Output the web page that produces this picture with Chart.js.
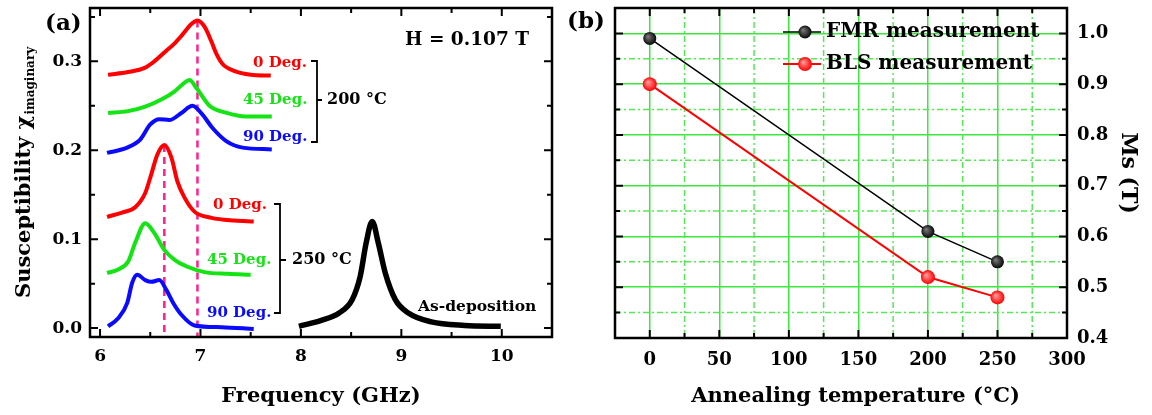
<!DOCTYPE html>
<html>
<head>
<meta charset="utf-8">
<script src="https://cdn.jsdelivr.net/npm/chart.js@4.4.1/dist/chart.umd.min.js"></script>
<style>
  body { margin: 0; background: #fff; }
  #wrap { position: relative; width: 1152px; height: 415px; }
  canvas { position: absolute; top: 0; }
  #chartA { left: 0; }
  #chartB { left: 560px; }
</style>
</head>
<body>
<div id="wrap">
  <canvas id="chartA" width="560" height="415"></canvas>
  <canvas id="chartB" width="592" height="415"></canvas>
</div>
<script>
// ---------- Panel (a): imaginary susceptibility vs frequency ----------
const freqMajor = [6, 7, 8, 9, 10];
const freqMinor = [6.5, 7.5, 8.5, 9.5];
const chiMajor = [0.0, 0.1, 0.2, 0.3];
const chiMinor = [0.05, 0.15, 0.25, 0.35];

// 200 C anneal, 0 / 45 / 90 deg
const f200deg0 = [6.08, 6.28, 6.45, 6.54, 6.64, 6.74, 6.82, 6.91, 6.97, 7.04, 7.11, 7.16, 7.22, 7.34, 7.50, 7.70];
const chi200deg0 = [0.285, 0.288, 0.293, 0.300, 0.310, 0.320, 0.330, 0.342, 0.346, 0.339, 0.322, 0.308, 0.297, 0.289, 0.285, 0.284];
const f200deg45 = [6.08, 6.28, 6.45, 6.61, 6.74, 6.83, 6.89, 6.96, 7.09, 7.26, 7.45, 7.71];
const chi200deg45 = [0.242, 0.244, 0.249, 0.257, 0.266, 0.275, 0.279, 0.270, 0.250, 0.242, 0.238, 0.238];
const f200deg90 = [6.07, 6.27, 6.40, 6.50, 6.59, 6.69, 6.81, 6.92, 7.02, 7.12, 7.26, 7.42, 7.71];
const chi200deg90 = [0.197, 0.203, 0.212, 0.229, 0.235, 0.234, 0.242, 0.250, 0.240, 0.225, 0.210, 0.203, 0.201];

// 250 C anneal, 0 / 45 / 90 deg
const f250deg0 = [6.07, 6.22, 6.35, 6.45, 6.51, 6.57, 6.64, 6.71, 6.77, 6.84, 6.94, 7.11, 7.34, 7.53];
const chi250deg0 = [0.125, 0.130, 0.136, 0.152, 0.173, 0.195, 0.206, 0.192, 0.165, 0.147, 0.131, 0.124, 0.121, 0.120];
const f250deg45 = [6.07, 6.18, 6.28, 6.35, 6.45, 6.54, 6.64, 6.74, 6.87, 7.04, 7.27, 7.50];
const chi250deg45 = [0.062, 0.066, 0.075, 0.096, 0.118, 0.107, 0.088, 0.077, 0.069, 0.063, 0.061, 0.060];
const f250deg90 = [6.08, 6.18, 6.27, 6.32, 6.37, 6.45, 6.51, 6.59, 6.66, 6.73, 6.81, 6.94, 7.21, 7.53];
const chi250deg90 = [0.002, 0.011, 0.028, 0.051, 0.060, 0.054, 0.052, 0.054, 0.043, 0.028, 0.015, 0.003, 0.001, -0.001];

// as-deposited film
const fAsDep = [7.98, 8.21, 8.38, 8.51, 8.59, 8.65, 8.71, 8.77, 8.84, 8.94, 9.07, 9.30, 9.63, 9.99];
const chiAsDep = [0.002, 0.009, 0.017, 0.032, 0.058, 0.096, 0.120, 0.096, 0.062, 0.032, 0.017, 0.007, 0.003, 0.002];

// dashed guides at the 0 deg resonance peaks
const guideFreq = [6.97, 6.64];
const guideTop = [0.346, 0.206];

// ---------- Panel (b): Ms vs annealing temperature ----------
const annealTemp = [0, 200, 250];
const msFMR = [0.99, 0.61, 0.55];
const msBLS = [0.90, 0.52, 0.48];
const tempMajor = [0, 50, 100, 150, 200, 250, 300];
const tempMinor = [25, 75, 125, 175, 225, 275];
const msMajor = [0.4, 0.5, 0.6, 0.7, 0.8, 0.9, 1.0];
const msMinor = [0.45, 0.55, 0.65, 0.75, 0.85, 0.95];

const RED = '#ff0000', GREEN = '#14e414', BLUE = '#0a0aff', PINK = '#ff1f8f', GRID = '#3ce83c';
const FONT = '"DejaVu Serif", serif';

Chart.defaults.font.family = FONT;
Chart.defaults.font.weight = 'bold';
Chart.defaults.color = '#000';

function pts(xs, ys) {
  return xs.map((x, i) => ({ x: x, y: ys[i] }));
}

function curve(xs, ys, color, width) {
  return {
    data: pts(xs, ys),
    showLine: true,
    borderColor: color,
    borderWidth: width || 4,
    pointRadius: 0,
    cubicInterpolationMode: 'monotone'
  };
}

function guide(f, top) {
  return {
    data: [{ x: f, y: top }, { x: f, y: -0.01 }],
    showLine: true,
    borderColor: PINK,
    borderWidth: 2.5,
    borderDash: [7, 5],
    pointRadius: 0
  };
}

// explicit tick lists
function setTicks(vals) {
  return (scale) => { scale.ticks = vals.map(v => ({ value: v })); };
}

// fixed axis box so the plot area lands where the original has it
function fixSize(prop, size) {
  return (scale) => {
    scale[prop] = size;
    scale.paddingLeft = scale.paddingRight = scale.paddingTop = scale.paddingBottom = 0;
  };
}

function text(ctx, s, x, y, size, color) {
  ctx.font = 'bold ' + size + 'px ' + FONT;
  ctx.fillStyle = color || '#000';
  ctx.textAlign = 'left';
  ctx.textBaseline = 'middle';
  ctx.fillText(s, x, y);
}

// inward tick marks on all four sides + frame
function frameTicks(xMajor, xMinor, yMajor, yMinor) {
  return {
    id: 'frameTicks',
    afterDraw(chart) {
      const { ctx, chartArea: a } = chart;
      const sx = chart.scales.x, sy = chart.scales.y;
      ctx.save();
      ctx.strokeStyle = '#000';
      ctx.lineWidth = 2;
      ctx.beginPath();
      const vt = (vals, len) => vals.forEach(v => {
        const p = sx.getPixelForValue(v);
        ctx.moveTo(p, a.bottom); ctx.lineTo(p, a.bottom - len);
        ctx.moveTo(p, a.top); ctx.lineTo(p, a.top + len);
      });
      const ht = (vals, len) => vals.forEach(v => {
        const p = sy.getPixelForValue(v);
        ctx.moveTo(a.left, p); ctx.lineTo(a.left + len, p);
        ctx.moveTo(a.right, p); ctx.lineTo(a.right - len, p);
      });
      vt(xMajor, 8); vt(xMinor, 5);
      ht(yMajor, 8); ht(yMinor, 5);
      ctx.stroke();
      ctx.lineWidth = 2.5;
      ctx.strokeRect(a.left, a.top, a.right - a.left, a.bottom - a.top);
      ctx.restore();
    }
  };
}

// labels, brackets and y title of panel (a)
const panelAText = {
  id: 'panelAText',
  afterDraw(chart) {
    const ctx = chart.ctx;
    ctx.save();
    text(ctx, '(a)', 45, 24, 23);
    text(ctx, 'H = 0.107 T', 405, 40, 18.5);
    text(ctx, '0 Deg.', 253, 63, 15, RED);
    text(ctx, '45 Deg.', 243, 100, 15, GREEN);
    text(ctx, '90 Deg.', 243, 137, 15, BLUE);
    text(ctx, '0 Deg.', 213, 205, 15, RED);
    text(ctx, '45 Deg.', 207, 260, 15, GREEN);
    text(ctx, '90 Deg.', 207, 313, 15, BLUE);
    text(ctx, '200 °C', 327, 100, 16);
    text(ctx, '250 °C', 292, 260, 16);
    text(ctx, 'As-deposition', 418, 307, 15.5);

    ctx.strokeStyle = '#000';
    ctx.lineWidth = 1.8;
    ctx.beginPath();
    // 200 C bracket
    ctx.moveTo(311, 61); ctx.lineTo(317, 61); ctx.lineTo(317, 142); ctx.lineTo(311, 142);
    ctx.moveTo(317, 100); ctx.lineTo(322, 100);
    // 250 C bracket
    ctx.moveTo(274, 204); ctx.lineTo(280, 204); ctx.lineTo(280, 313); ctx.lineTo(274, 313);
    ctx.moveTo(280, 260); ctx.lineTo(286, 260);
    ctx.stroke();

    // y title with subscript
    ctx.translate(25, 298);
    ctx.rotate(-Math.PI / 2);
    const main = 'Susceptibility χ';
    text(ctx, main, 0, 0, 21);
    const w = ctx.measureText(main).width;
    text(ctx, 'imaginary', w + 1, 6, 12);
    ctx.restore();
  }
};

new Chart(document.getElementById('chartA'), {
  type: 'scatter',
  data: {
    datasets: [
      curve(f200deg0, chi200deg0, RED),
      curve(f200deg45, chi200deg45, GREEN),
      curve(f200deg90, chi200deg90, BLUE),
      curve(f250deg0, chi250deg0, RED),
      curve(f250deg45, chi250deg45, GREEN),
      curve(f250deg90, chi250deg90, BLUE),
      curve(fAsDep, chiAsDep, '#000', 5.5),
      guide(guideFreq[0], guideTop[0]),
      guide(guideFreq[1], guideTop[1])
    ]
  },
  options: {
    responsive: false,
    animation: false,
    layout: { padding: { left: 0, top: 8, right: 8, bottom: 0 } },
    plugins: { legend: { display: false }, tooltip: { enabled: false } },
    scales: {
      x: {
        type: 'linear', min: 5.9, max: 10.5,
        afterBuildTicks: setTicks(freqMajor),
        afterFit: fixSize('height', 78),
        grid: { display: false, drawTicks: false },
        border: { display: false },
        ticks: { padding: 9, font: { size: 17 }, callback: v => v.toFixed(0) },
        title: { display: true, text: 'Frequency (GHz)', font: { size: 21 }, padding: { top: 0, bottom: 6 } }
      },
      y: {
        type: 'linear', min: -0.01, max: 0.36,
        afterBuildTicks: setTicks(chiMajor),
        afterFit: fixSize('width', 90),
        grid: { display: false, drawTicks: false },
        border: { display: false },
        ticks: { padding: 8, font: { size: 17 }, callback: v => v.toFixed(1) }
      }
    }
  },
  plugins: [frameTicks(freqMajor, freqMinor, chiMajor, chiMinor), panelAText]
});

// ---------- panel (b) ----------
// shaded ball marker, falls back to flat colour before the scales are ready
function ball(base, hi) {
  return (c) => {
    if (!c.parsed) return base;
    const ch = c.chart;
    const px = ch.scales.x.getPixelForValue(c.parsed.x);
    const py = ch.scales.y.getPixelForValue(c.parsed.y);
    if (!isFinite(px) || !isFinite(py)) return base;
    const g = ch.ctx.createRadialGradient(px - 2, py - 2, 0.5, px, py, 7);
    g.addColorStop(0, hi);
    g.addColorStop(1, base);
    return g;
  };
}

const minorGrid = {
  id: 'minorGrid',
  beforeDatasetsDraw(chart) {
    const { ctx, chartArea: a, scales: { x, y } } = chart;
    ctx.save();
    ctx.strokeStyle = '#55ea55';
    ctx.lineWidth = 1.5;
    ctx.setLineDash([6, 3, 2, 3]);
    ctx.beginPath();
    tempMinor.forEach(v => { const p = x.getPixelForValue(v); ctx.moveTo(p, a.top); ctx.lineTo(p, a.bottom); });
    msMinor.forEach(v => { const p = y.getPixelForValue(v); ctx.moveTo(a.left, p); ctx.lineTo(a.right, p); });
    ctx.stroke();
    ctx.restore();
  }
};

const panelBText = {
  id: 'panelBText',
  afterDraw(chart) {
    const ctx = chart.ctx;
    ctx.save();
    text(ctx, '(b)', 7, 22, 23);
    // legend: line through a ball, then label
    const rows = [{ y: 32, ds: 0 }, { y: 64, ds: 1 }];
    rows.forEach(r => {
      const ds = chart.data.datasets[r.ds];
      ctx.strokeStyle = ds.borderColor;
      ctx.lineWidth = ds.borderWidth;
      ctx.beginPath(); ctx.moveTo(223, r.y); ctx.lineTo(261, r.y); ctx.stroke();
      const g = ctx.createRadialGradient(243, r.y - 2, 0.5, 245, r.y, 7);
      g.addColorStop(0, r.ds === 0 ? '#777' : '#ff9a9a');
      g.addColorStop(1, ds.borderColor);
      ctx.fillStyle = g;
      ctx.beginPath(); ctx.arc(245, r.y, ds.pointRadius, 0, Math.PI * 2); ctx.fill();
      text(ctx, ds.label, 266, r.y, 20);
    });
    ctx.restore();
  }
};

new Chart(document.getElementById('chartB'), {
  type: 'scatter',
  data: {
    datasets: [
      {
        label: 'FMR measurement',
        data: pts(annealTemp, msFMR),
        showLine: true,
        borderColor: '#000',
        borderWidth: 1.5,
        pointRadius: 6.5,
        pointBorderWidth: 0,
        pointBackgroundColor: ball('#000', '#777')
      },
      {
        label: 'BLS measurement',
        data: pts(annealTemp, msBLS),
        showLine: true,
        borderColor: RED,
        borderWidth: 2,
        pointRadius: 7,
        pointBorderWidth: 0,
        pointBackgroundColor: ball(RED, '#ff9a9a')
      }
    ]
  },
  options: {
    responsive: false,
    animation: false,
    layout: { padding: { left: 55, top: 8, right: 0, bottom: 0 } },
    plugins: { legend: { display: false }, tooltip: { enabled: false } },
    scales: {
      x: {
        type: 'linear', min: -25, max: 300,
        afterBuildTicks: setTicks(tempMajor),
        afterFit: fixSize('height', 77),
        grid: { color: GRID, lineWidth: 1.5, drawTicks: false },
        border: { display: false },
        ticks: { padding: 12, font: { size: 18 }, callback: v => v.toFixed(0) },
        // leading spaces nudge the centred title right, as in the original
        title: { display: true, text: '    Annealing temperature (°C)', font: { size: 21 }, padding: { top: 0, bottom: 6 } }
      },
      y: {
        type: 'linear', position: 'right', min: 0.4, max: 1.05,
        afterBuildTicks: setTicks(msMajor),
        afterFit: fixSize('width', 85),
        grid: { color: GRID, lineWidth: 1.5, drawTicks: false },
        border: { display: false },
        ticks: { padding: 10, font: { size: 18 }, callback: v => v.toFixed(1) },
        title: { display: true, text: 'Ms (T)', font: { size: 22 }, padding: { top: 11, bottom: 0 } }
      }
    }
  },
  plugins: [minorGrid, frameTicks(tempMajor, tempMinor, msMajor, msMinor), panelBText]
});
</script>
</body>
</html>
